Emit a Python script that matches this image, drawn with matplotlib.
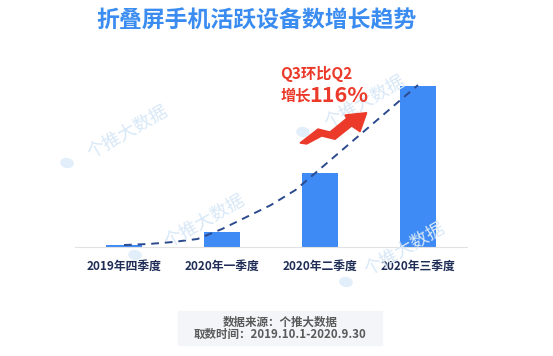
import matplotlib
matplotlib.use("Agg")
import matplotlib.pyplot as plt
from matplotlib.patches import Polygon, Rectangle, Ellipse

plt.rcParams["font.family"] = ["Noto Sans CJK SC", "DejaVu Sans"]

# data (relative units)
quarters = ["2019年四季度", "2020年一季度", "2020年二季度", "2020年三季度"]
active_devices = [2, 15, 74.5, 161]
trend_x = [0, 0.25, 0.5, 0.75, 1.0, 1.25, 1.5, 1.75, 2.0, 2.25, 2.5, 2.75, 3.0]
trend_y = [2, 3, 5, 8, 18, 30, 42, 57, 78, 99, 120, 141, 162]

title = "折叠屏手机活跃设备数增长趋势"
note_line1 = "Q3环比Q2"
note_prefix = "增长"
note_value = "116%"
source_lines = ["数据来源：个推大数据", "取数时间：2019.10.1-2020.9.30"]
watermark = "个推大数据"

W, H = 553, 356
BLUE = "#3e8bf5"
RED = "#ec3a2a"
NAVY = "#1f2d57"
MARK = "#d8e8f7"


def fx(x):
    return x / W


def fy(y):
    return 1 - y / H


fig = plt.figure(figsize=(W / 100, H / 100), dpi=100)
fig.patch.set_facecolor("white")

# watermarks behind everything
for (tx, ty), (ix, iy) in [((128, 133), (67, 163)), ((365, 103), (303, 132)),
                           ((205, 222), (135, 255)), ((405, 250), (346, 282))]:
    fig.text(fx(tx), fy(ty), watermark, rotation=30, fontsize=13, color=MARK,
             ha="center", va="center", zorder=0)
    fig.add_artist(Ellipse((fx(ix), fy(iy)), 12 / W, 9 / H, angle=20,
                           color="#e2eefa", zorder=0))

ax = fig.add_axes([fx(75), fy(247), 392 / W, 177 / H])
ax.set_facecolor("none")
ax.bar(range(len(quarters)), active_devices, width=0.36, color=BLUE, zorder=2)
ax.plot(trend_x, trend_y, color="#2c4a8e", lw=1.4, dashes=(4, 3), zorder=3)

ax.set_xlim(-0.5, 3.5)
ax.set_ylim(0, 177)
ax.set_xticks(range(len(quarters)))
ax.set_xticklabels(quarters, fontsize=8.5, fontweight="bold", color=NAVY)
ax.tick_params(axis="x", length=0, pad=9)
ax.set_yticks([])
for side in ["left", "right", "top"]:
    ax.spines[side].set_visible(False)
ax.spines["bottom"].set_color("#e2e2e2")
ax.spines["bottom"].set_linewidth(0.8)

fig.text(fx(257), fy(21), title, fontsize=16.5, fontweight="heavy",
         color="#3a8cf0", ha="center", va="center")

# growth note with red arrow
fig.text(fx(280), fy(74), note_line1, fontsize=11, fontweight="bold",
         color=RED, ha="left", va="center")
fig.text(fx(281), fy(96), note_prefix, fontsize=11, fontweight="bold",
         color=RED, ha="left", va="center")
fig.text(fx(309), fy(95), note_value, fontsize=15.5, fontweight="bold",
         color=RED, ha="left", va="center")
arrow_px = [(300, 143), (318, 129), (330, 132), (346.7, 118.3), (345, 115),
            (366.7, 112.7), (360, 131.7), (351.7, 126), (335, 139.3),
            (321.7, 136), (306.7, 144)]
fig.add_artist(Polygon([(fx(x), fy(y)) for x, y in arrow_px], closed=True,
                       color=RED, zorder=4))

# source box
fig.add_artist(Rectangle((fx(178), fy(345)), 204 / W, 34 / H,
                         color="#f4f5f9", zorder=0))
fig.text(fx(280), fy(322), source_lines[0], fontsize=8.3, fontweight="bold",
         color="#5a5a5a", ha="center", va="center")
fig.text(fx(280), fy(334), source_lines[1], fontsize=8.3, fontweight="bold",
         color="#5a5a5a", ha="center", va="center")

fig.savefig("out.png", dpi=100)
